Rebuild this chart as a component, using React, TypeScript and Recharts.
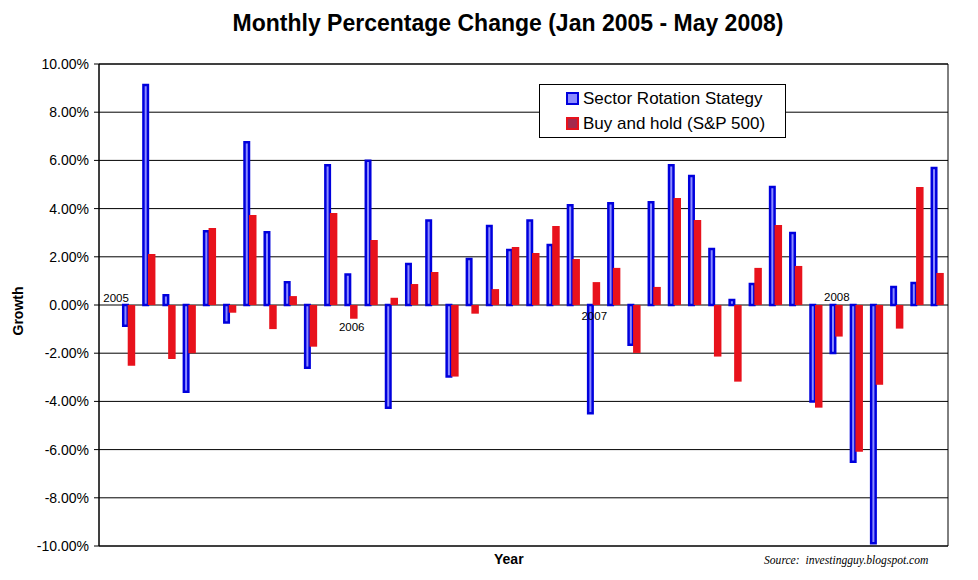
import { Bar, BarChart, CartesianGrid, ReferenceArea, ReferenceDot, XAxis, YAxis } from "recharts";

// first slot is left empty, like the original spreadsheet chart
const months = [
  "Dec 04", "Jan 05", "Feb 05", "Mar 05", "Apr 05", "May 05", "Jun 05", "Jul 05", "Aug 05", "Sep 05", "Oct 05", "Nov 05",
  "Dec 05", "Jan 06", "Feb 06", "Mar 06", "Apr 06", "May 06", "Jun 06", "Jul 06", "Aug 06", "Sep 06", "Oct 06", "Nov 06",
  "Dec 06", "Jan 07", "Feb 07", "Mar 07", "Apr 07", "May 07", "Jun 07", "Jul 07", "Aug 07", "Sep 07", "Oct 07", "Nov 07",
  "Dec 07", "Jan 08", "Feb 08", "Mar 08", "Apr 08", "May 08"
];

const sectorRotation = [
  null, -0.86, 9.13, 0.4, -3.6, 3.06, -0.73, 6.75, 3.02, 0.94, -2.6, 5.8, 1.27,
  5.99, -4.26, 1.7, 3.51, -2.97, 1.91, 3.28, 2.28, 3.51, 2.49, 4.14, -4.49,
  4.22, -1.65, 4.26, 5.8, 5.35, 2.32, 0.21, 0.87, 4.9, 2.99, -4.0, -1.99,
  -6.5, -9.89, 0.75, 0.91, 5.68
];

const buyAndHold = [
  null, -2.52, 2.12, -2.24, -2.0, 3.2, -0.32, 3.73, -1.0, 0.37, -1.73, 3.82, -0.57,
  2.7, 0.3, 0.87, 1.37, -2.97, -0.36, 0.66, 2.41, 2.16, 3.28, 1.91, 0.95,
  1.54, -1.99, 0.75, 4.44, 3.53, -2.14, -3.18, 1.54, 3.32, 1.62, -4.26, -1.31,
  -6.09, -3.31, -0.98, 4.9, 1.33
];

const yTicks = [-10, -8, -6, -4, -2, 0, 2, 4, 6, 8, 10];

const yearLabels = ["2005", "2006", "2007", "2008"];
const yearSlots = ["Dec 04", "Dec 05", "Dec 06", "Dec 07"];

const data = months.map((month, i) => ({
  month,
  sector: sectorRotation[i],
  buyHold: buyAndHold[i]
}));

const font = "'Liberation Sans', Arial, sans-serif";
const BLUE_EDGE = "#0000dd";
const BLUE_FILL = "#8c8cff";
const RED = "#e8121c";

// where each year label sits relative to the zero line
const yearLabelStyle: Record<string, { dx: number; dy: number }> = {
  "2005": { dx: 7, dy: -3 },
  "2006": { dx: 0, dy: 26 },
  "2007": { dx: 0, dy: 15 },
  "2008": { dx: 0, dy: -4 }
};

function YearLabel(props: any, label: string) {
  const s = yearLabelStyle[label];
  return (
    <text x={props.cx + s.dx} y={props.cy + s.dy} textAnchor="middle" fontSize={11.5} fontFamily={font} fill="#000">
      {label}
    </text>
  );
}

function LegendBox() {
  return (
    <div
      style={{
        position: "absolute",
        left: 539,
        top: 84,
        width: 245,
        height: 52,
        border: "1px solid #000",
        background: "#fff",
        fontFamily: font,
        fontSize: 17
      }}
    >
      <div style={{ display: "flex", alignItems: "center", height: 25, paddingLeft: 26, paddingTop: 1 }}>
        <span style={{ width: 9, height: 9, border: `2px solid ${BLUE_EDGE}`, background: BLUE_FILL, marginRight: 4 }} />
        Sector Rotation Stategy
      </div>
      <div style={{ display: "flex", alignItems: "center", height: 25, paddingLeft: 26 }}>
        <span style={{ width: 9, height: 9, border: `2px solid ${RED}`, background: "#a32a4c", marginRight: 4 }} />
        Buy and hold (S&amp;P 500)
      </div>
    </div>
  );
}

export default function App() {
  return (
    <div style={{ position: "relative", width: 978, height: 580, background: "#fff" }}>
      <style>{"body{margin:0}"}</style>
      <div
        style={{
          position: "absolute",
          left: 0,
          width: 1016,
          top: 10,
          textAlign: "center",
          fontFamily: font,
          fontWeight: "bold",
          fontSize: 23
        }}
      >
        Monthly Percentage Change (Jan 2005 - May 2008)
      </div>
      <div
        style={{
          position: "absolute",
          left: 18,
          top: 311,
          transform: "translate(-50%, -50%) rotate(-90deg)",
          fontFamily: font,
          fontWeight: "bold",
          fontSize: 14
        }}
      >
        Growth
      </div>
      <div style={{ position: "absolute", left: 494, top: 551, fontFamily: font, fontWeight: "bold", fontSize: 14 }}>
        Year
      </div>
      <div
        style={{
          position: "absolute",
          left: 764,
          top: 554,
          fontFamily: "'Liberation Serif', 'Times New Roman', serif",
          fontStyle: "italic",
          fontSize: 11.6
        }}
      >
        Source:&nbsp; investingguy.blogspot.com
      </div>
      <BarChart
        width={978}
        height={580}
        data={data}
        margin={{ top: 64, right: 30, bottom: 34, left: 0 }}
        barGap={0}
        barCategoryGap={0}
        style={{ position: "absolute", left: 0, top: 0 }}
      >
        <CartesianGrid horizontal vertical={false} stroke="#000" strokeWidth={1} />
        <XAxis dataKey="month" hide />
        <YAxis
          domain={[-10, 10]}
          ticks={yTicks}
          width={99}
          tickSize={5}
          tickMargin={5}
          axisLine={{ stroke: "#000", strokeWidth: 1 }}
          tickLine={{ stroke: "#000" }}
          tickFormatter={(v: number) => v.toFixed(2) + "%"}
          tick={{ fill: "#000", fontSize: 14, fontFamily: font }}
          allowDataOverflow
        />
        <ReferenceArea y1={-10} y2={10} fill="none" stroke="#000" strokeWidth={1} ifOverflow="extendDomain" />
        <Bar
          dataKey="sector"
          name="Sector Rotation Stategy"
          barSize={4.5}
          fill={BLUE_FILL}
          stroke={BLUE_EDGE}
          strokeWidth={2.5}
          isAnimationActive={false}
        />
        <Bar
          dataKey="buyHold"
          name="Buy and hold (S&P 500)"
          barSize={7.5}
          fill={RED}
          isAnimationActive={false}
        />
        {yearLabels.map((label, i) => (
          <ReferenceDot
            key={label}
            x={yearSlots[i]}
            y={0}
            r={0}
            ifOverflow="visible"
            shape={(p: any) => YearLabel(p, label)}
          />
        ))}
      </BarChart>
      <LegendBox />
    </div>
  );
}
